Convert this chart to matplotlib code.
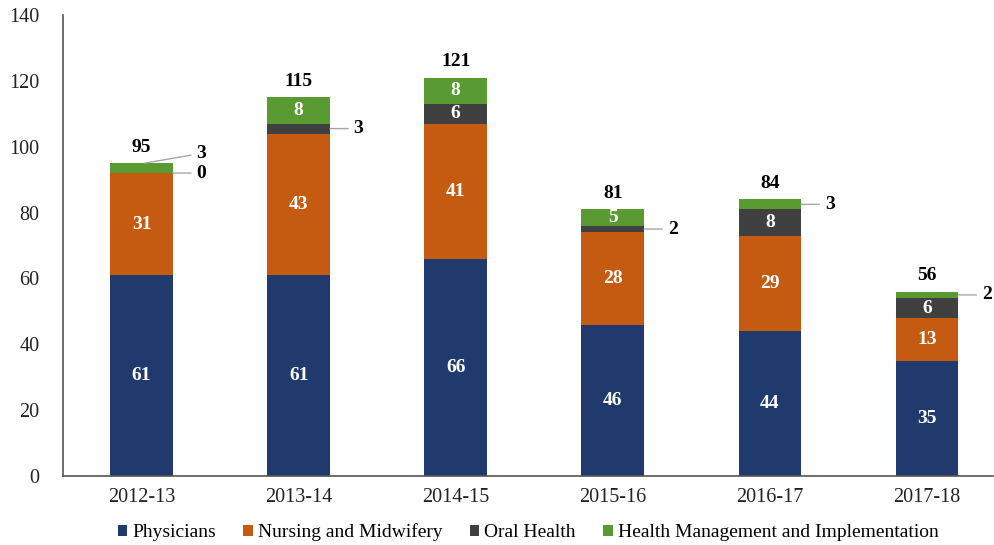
import numpy as np
import matplotlib.pyplot as plt

plt.rcParams['font.family'] = ['Liberation Serif', 'DejaVu Serif']

years = ['2012-13', '2013-14', '2014-15', '2015-16', '2016-17', '2017-18']
physicians = [61, 61, 66, 46, 44, 35]
nursing = [31, 43, 41, 28, 29, 13]
oral = [0, 3, 6, 2, 8, 6]
mgmt = [3, 8, 8, 5, 3, 2]
totals = [95, 115, 121, 81, 84, 56]

names = ['Physicians', 'Nursing and Midwifery', 'Oral Health',
         'Health Management and Implementation']
colors = ['#203a6e', '#c55a11', '#404040', '#5a9a32']
series = [physicians, nursing, oral, mgmt]

fig = plt.figure(figsize=(9.95, 5.45), dpi=100)
ax = fig.add_axes([63/995, 1-476/545, 930/995, 461/545])

x = np.arange(len(years))
w = 0.4
bottom = np.zeros(len(years))
for vals, c, n in zip(series, colors, names):
    vals = np.array(vals)
    ax.bar(x, vals, w, bottom=bottom, color=c, label=n, zorder=2)
    for i, v in enumerate(vals):
        mid = bottom[i] + v / 2
        if v >= 5:
            ax.text(x[i], mid, str(v), ha='center', va='center', color='white',
                    fontsize=14, fontweight='bold')
        else:
            # small segment: label outside with a leader line
            if i == 0 and c == colors[3]:
                tx, ty = x[i] + 0.35, mid + 4.5
                sx = x[i] + 0.02
                sy = bottom[i] + v
            else:
                tx, ty = x[i] + 0.35, mid
                sx, sy = x[i] + w / 2, mid
            ax.annotate(str(v), xy=(sx, sy), xytext=(tx, ty), ha='left',
                        va='center', fontsize=14, fontweight='bold',
                        arrowprops=dict(arrowstyle='-', color='#a6a6a6', lw=1,
                                        shrinkA=2, shrinkB=0))
    bottom += vals

for i, t in enumerate(totals):
    ax.text(x[i], t + 2.3, str(t), ha='center', va='bottom', fontsize=14,
            fontweight='bold')

ax.set_xlim(-0.5, 5.42)
ax.set_ylim(0, 140)
ax.set_yticks(range(0, 141, 20))
ax.set_xticks(x)
ax.set_xticklabels(years)
ax.tick_params(length=0, labelsize=14.5, colors='#222222', pad=9)
ax.tick_params(axis='y', pad=17)
for s in ['top', 'right']:
    ax.spines[s].set_visible(False)
for s in ['left', 'bottom']:
    ax.spines[s].set_color('#555555')
    ax.spines[s].set_linewidth(1.2)

ax.legend(loc='center', bbox_to_anchor=(0.5, -0.122), ncol=4,
          frameon=False, fontsize=14, handlelength=0.5, handleheight=0.5,
          handletextpad=0.25, columnspacing=1.4, borderpad=0.1)

fig.savefig('out.png', dpi=100)
